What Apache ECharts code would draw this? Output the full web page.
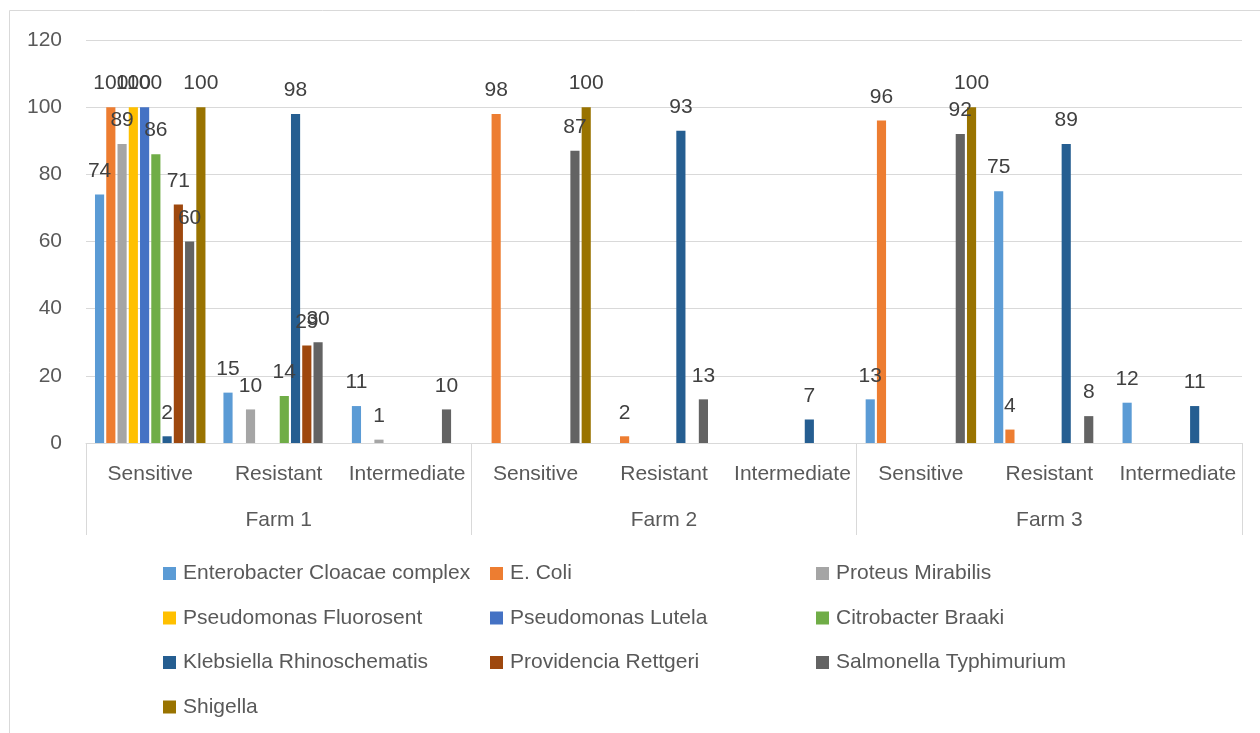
<!DOCTYPE html>
<html>
<head>
<meta charset="utf-8">
<script src="https://cdn.jsdelivr.net/npm/echarts@6/dist/echarts.min.js"></script>
<style>
html,body{margin:0;padding:0;background:#fff;}
#chart{width:1260px;height:733px;}
</style>
</head>
<body>
<div id="chart"></div>
<script>
// ---- data ----
const farms = ['Farm 1', 'Farm 2', 'Farm 3'];
const statuses = ['Sensitive', 'Resistant', 'Intermediate'];
const seriesNames = [
  'Enterobacter Cloacae complex', 'E. Coli', 'Proteus Mirabilis',
  'Pseudomonas Fluorosent', 'Pseudomonas Lutela', 'Citrobacter Braaki',
  'Klebsiella Rhinoschematis', 'Providencia Rettgeri', 'Salmonella Typhimurium',
  'Shigella'
];
// order of categories: F1 Sens, F1 Res, F1 Int, F2 Sens, F2 Res, F2 Int, F3 Sens, F3 Res, F3 Int
const enterobacter = [74, 15, 11, null, null, null, 13, 75, 12];
const eColi        = [100, null, null, 98, 2, null, 96, 4, null];
const proteus      = [89, 10, 1, null, null, null, null, null, null];
const pseudoFluo   = [100, null, null, null, null, null, null, null, null];
const pseudoLutela = [100, null, null, null, null, null, null, null, null];
const citrobacter  = [86, 14, null, null, null, null, null, null, null];
const klebsiella   = [2, 98, null, null, 93, 7, null, 89, 11];
const providencia  = [71, 29, null, null, null, null, null, null, null];
const salmonella   = [60, 30, 10, 87, 13, null, 92, 8, null];
const shigella     = [100, null, null, 100, null, null, 100, null, null];
const yTicks = [0, 20, 40, 60, 80, 100, 120];

const seriesValues = [enterobacter, eColi, proteus, pseudoFluo, pseudoLutela,
  citrobacter, klebsiella, providencia, salmonella, shigella];
const colors = ['#5B9BD5', '#ED7D31', '#A5A5A5', '#FFC000', '#4472C4',
  '#70AD47', '#255E91', '#9E480E', '#636363', '#997300'];

const catKeys = [];
farms.forEach(f => statuses.forEach(s => catKeys.push(f + '|' + s)));

const FONT = '"Liberation Sans", Arial, sans-serif';
const TXT = '#595959';
const LINE = '#d9d9d9';

const chart = echarts.init(document.getElementById('chart'), null, {renderer: 'canvas'});

const legendCommon = {
  orient: 'vertical',
  top: 558,
  itemWidth: 13,
  itemHeight: 13,
  itemGap: 23.5,
  icon: 'rect',
  textStyle: {color: TXT, fontSize: 21, fontFamily: FONT, lineHeight: 21, padding: [0, 0, 0, 2]}
};

const option = {
  animation: false,
  color: colors,
  textStyle: {fontFamily: FONT},
  graphic: [{
    type: 'rect',
    shape: {x: 9.5, y: 10.5, width: 1400, height: 900},
    style: {fill: 'none', stroke: LINE, lineWidth: 1},
    silent: true
  }],
  legend: [
    Object.assign({left: 158, data: [seriesNames[0], seriesNames[3], seriesNames[6], seriesNames[9]]}, legendCommon),
    Object.assign({left: 485, data: [seriesNames[1], seriesNames[4], seriesNames[7]]}, legendCommon),
    Object.assign({left: 811, data: [seriesNames[2], seriesNames[5], seriesNames[8]]}, legendCommon)
  ],
  grid: {left: 86, right: 18, top: 40, bottom: 290, containLabel: false},
  xAxis: [{
    type: 'category',
    data: catKeys,
    position: 'bottom',
    axisLine: {show: true, lineStyle: {color: LINE, width: 1}},
    axisTick: {show: false},
    axisLabel: {
      color: TXT, fontSize: 21, fontFamily: FONT, margin: 21, interval: 0,
      formatter: v => v.split('|')[1]
    },
    splitLine: {show: false}
  }, {
    type: 'category',
    data: farms,
    position: 'bottom',
    offset: 0,
    axisLine: {show: false},
    axisTick: {show: true, length: 92, lineStyle: {color: LINE, width: 1}},
    axisLabel: {color: TXT, fontSize: 21, fontFamily: FONT, margin: 67, interval: 0},
    splitLine: {show: false}
  }],
  yAxis: {
    type: 'value',
    min: yTicks[0],
    max: yTicks[yTicks.length - 1],
    interval: yTicks[1] - yTicks[0],
    axisLine: {show: false},
    axisTick: {show: false},
    axisLabel: {color: TXT, fontSize: 21, fontFamily: FONT, margin: 24},
    splitLine: {lineStyle: {color: LINE, width: 1}}
  },
  series: seriesNames.map((name, i) => ({
    name: name,
    type: 'bar',
    xAxisIndex: 0,
    data: seriesValues[i],
    barCategoryGap: '14%',
    barGap: '23%',
    itemStyle: {color: colors[i]},
    label: {
      show: true,
      position: 'top',
      distance: 13,
      color: '#404040',
      fontSize: 21,
      fontFamily: FONT
    }
  }))
};

chart.setOption(option);
</script>
</body>
</html>
